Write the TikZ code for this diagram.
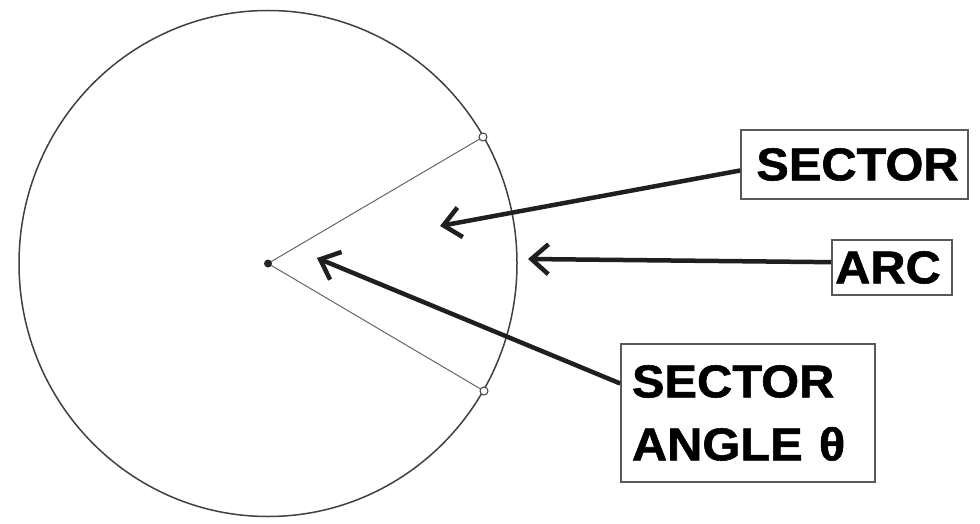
\documentclass[tikz,border=0pt]{standalone}
\usepackage{fontspec}
\setmainfont{Liberation Sans}
\newfontfamily\heavyfont[FakeBold=1.2]{Liberation Sans Bold}
\usetikzlibrary{arrows.meta}
\begin{document}
\begin{tikzpicture}[x=1pt,y=-1pt,
  lbl/.style={draw=black!65,line width=1.6pt,inner sep=0pt,font=\fontsize{46}{63}\selectfont\heavyfont},
  pointer/.style={draw=black!88,line width=4.5pt,-{Straight Barb[length=17pt,width=30pt,line width=4.5pt]}},
  radius line/.style={draw=black!60,line width=1pt},
  rim/.style={draw=black!75,line width=1.5pt}]
\useasboundingbox (0,0) rectangle (980,524);
\fill[white] (0,0) rectangle (980,524);
% circle
\coordinate (O) at (268,263.5);
\draw[rim] (O) ellipse [x radius=249, y radius=253];
\coordinate (P1) at (483,137);
\coordinate (P2) at (484,391);
\draw[radius line] (O) -- (P1);
\draw[radius line] (O) -- (P2);
\node[circle,fill=black!85,minimum size=8pt,inner sep=0pt] (c) at (O) {};
\node[circle,draw=black!75,line width=1pt,fill=white,minimum size=8pt,inner sep=0pt] (p1) at (P1) {};
\node[circle,draw=black!75,line width=1pt,fill=white,minimum size=8pt,inner sep=0pt] (p2) at (P2) {};
% labels
\node[lbl,minimum width=227pt,minimum height=69pt] (b1) at (854.5,164.5) {\hspace*{6pt}\scalebox{1.06}[1]{SECTOR}};
\node[lbl,minimum width=120pt,minimum height=55pt] (b2) at (892,267.5) {\scalebox{1.06}[1]{ARC}\hspace*{8pt}};
\node[lbl,minimum width=254pt,minimum height=138pt,text width=254pt,align=left] (b3) at (748,413)
  {\hspace*{11pt}\scalebox{1.06}[1]{SECTOR}\\\hspace*{11pt}\scalebox{1.06}[1]{ANGLE θ}};
% arrow heads
\coordinate (h1) at (440,226);
\coordinate (h2) at (528,259);
\coordinate (h3) at (317,258);
\draw[pointer] (b1.183) -- (h1);
\draw[pointer] (b2.175) -- (h2);
\draw[pointer] (b3.167) -- (h3);
\end{tikzpicture}
\end{document}
